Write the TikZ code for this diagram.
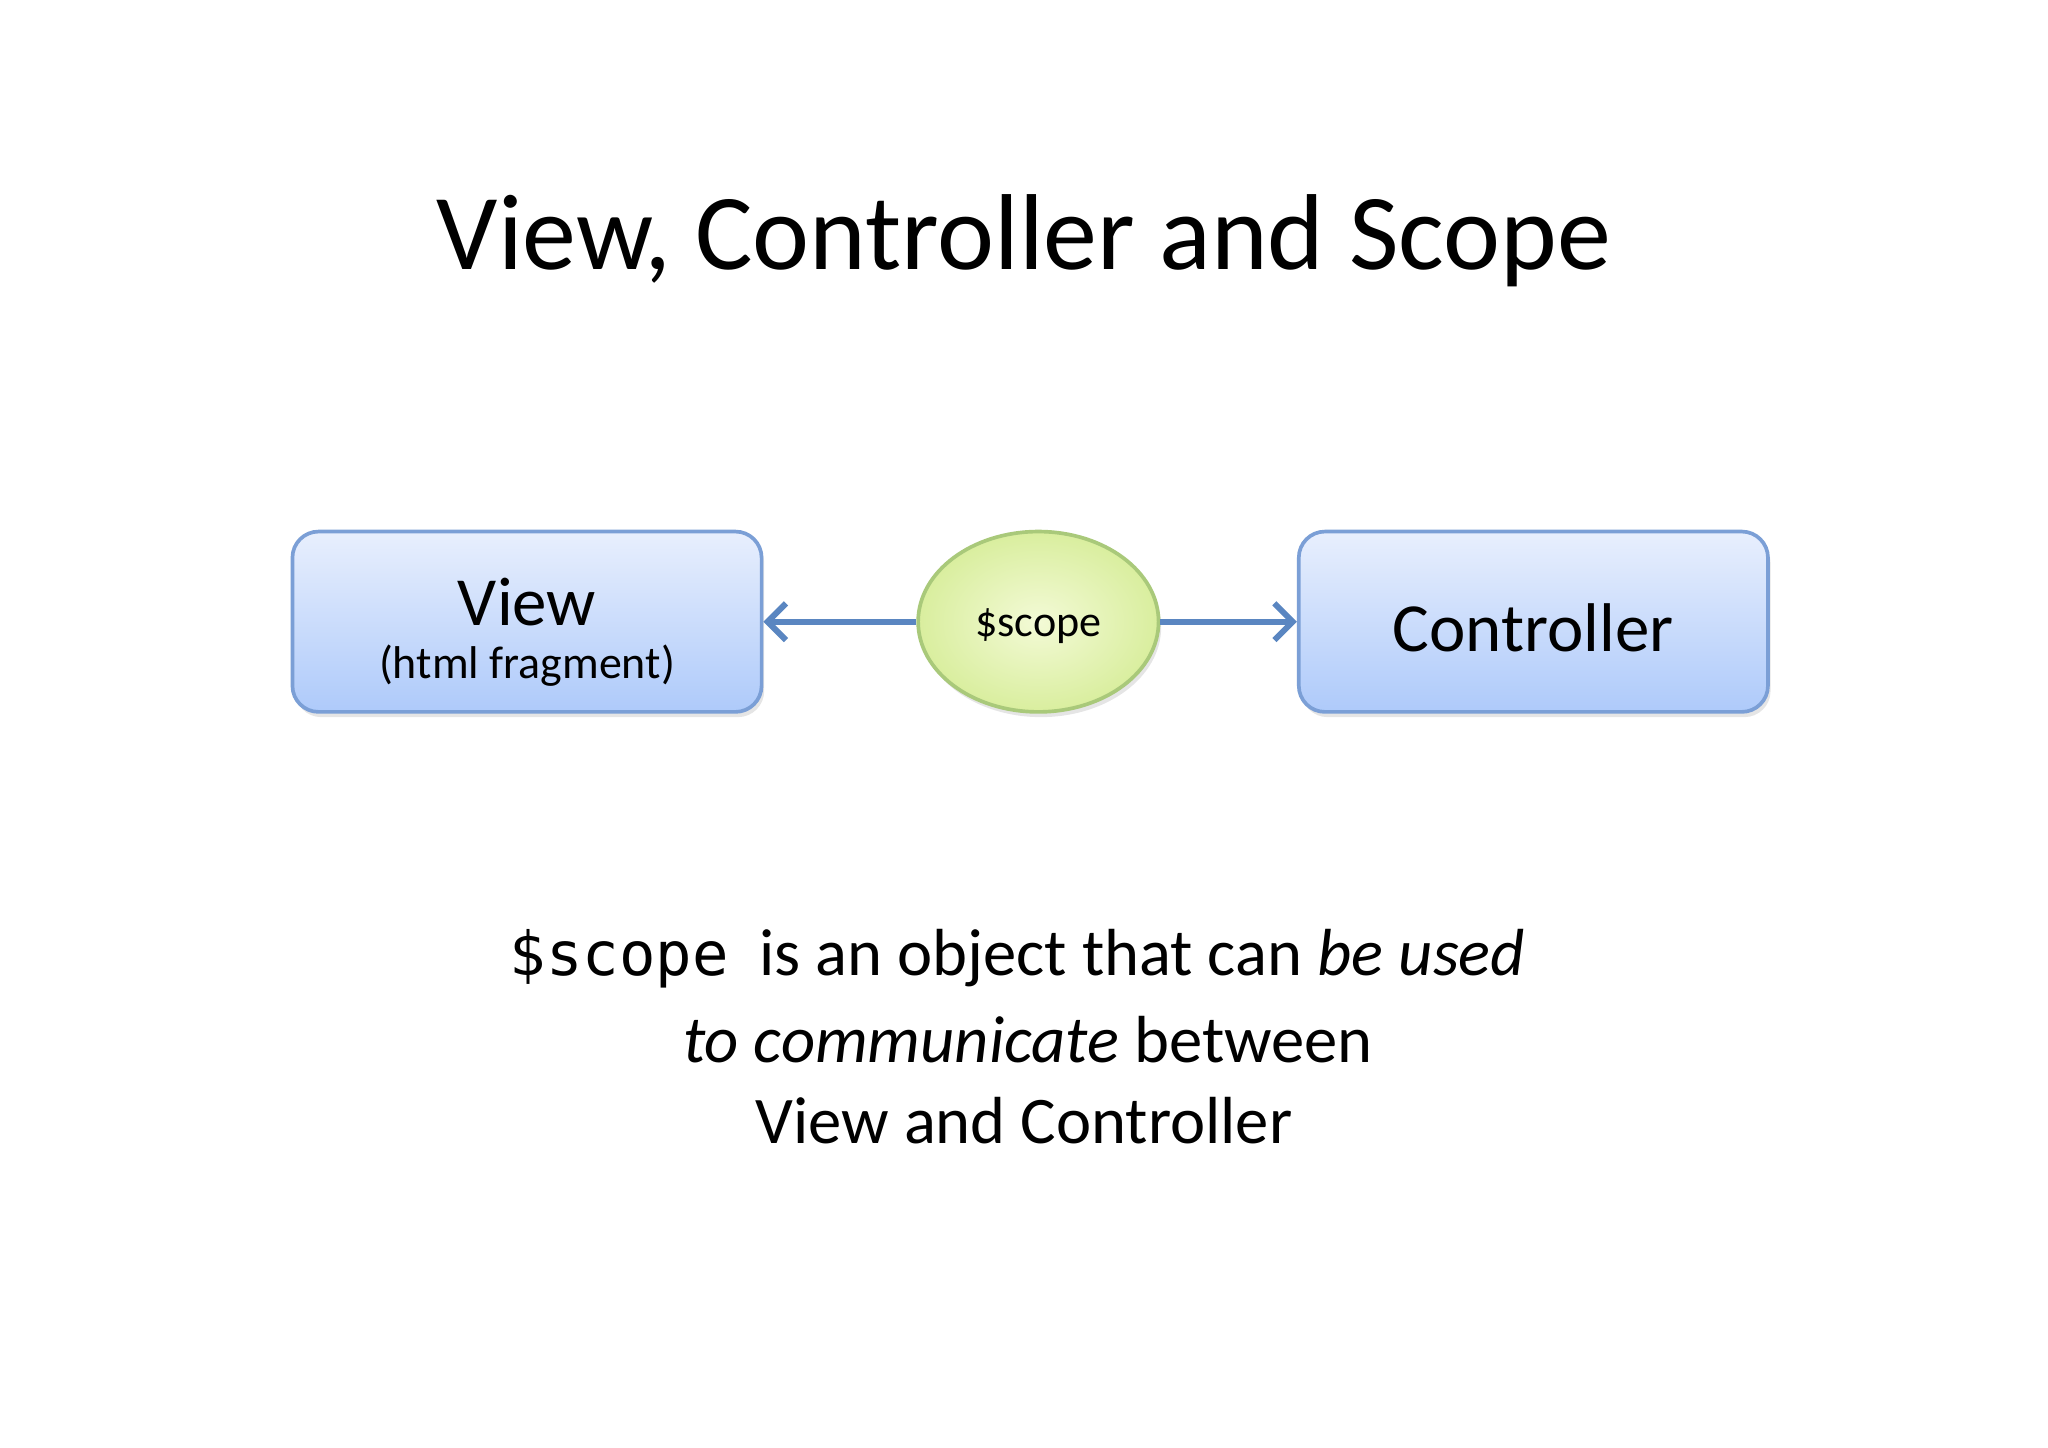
\documentclass[tikz,border=0pt]{standalone}
\usepackage{fontspec}
\setmainfont{Carlito}
\newfontfamily\codefont{DejaVu Sans Mono}
\usetikzlibrary{shapes.geometric,arrows.meta,shadows}
\definecolor{boxtop}{HTML}{E8EFFD}
\definecolor{boxbot}{HTML}{AECAFA}
\definecolor{boxline}{HTML}{7B9FD6}
\definecolor{elin}{HTML}{F3FAD6}
\definecolor{elout}{HTML}{D9EE9E}
\definecolor{elline}{HTML}{A9C97A}
\definecolor{arr}{HTML}{5A86C1}
\tikzset{
  bluebox/.style={draw=boxline, line width=0.8pt, rounded corners=0.2cm, top color=boxtop, bottom color=boxbot,
    minimum width=3.59cm, minimum height=1.38cm, align=center, drop shadow={opacity=0.2, shadow xshift=0.02cm, shadow yshift=-0.04cm}},
  scopeell/.style={ellipse, draw=elline, line width=0.8pt, inner color=elin, outer color=elout,
    minimum width=1.84cm, minimum height=1.38cm, drop shadow={opacity=0.2, shadow xshift=0.02cm, shadow yshift=-0.04cm}},
  conn/.style={draw=arr, line width=1.3pt, -{Straight Barb[length=4pt,width=8pt]}}
}
\begin{document}
\begin{tikzpicture}[x=0.01cm,y=-0.01cm]
\useasboundingbox[fill=white] (0,0) rectangle (1568,1108);
\node (title) at (784,184) {\fontsize{23.5}{28}\selectfont View, Controller and Scope};
\node[bluebox] (view) at (403.5,476) {};
\node (viewt) at (403.5,461) {\fontsize{15}{18}\selectfont View};
\node (viewsub) at (403.5,510) {\fontsize{10}{12}\selectfont (html fragment)};
\node[bluebox] (ctrl) at (1174,476) {};
\node (ctrlt) at (1174,481) {\fontsize{15}{18}\selectfont Controller};
\node[scopeell] (scope) at (795,476) {};
\node (scopet) at (795,479) {\fontsize{9.6}{12}\selectfont \$scope};
\draw[conn] (scope) -- (view);
\draw[conn] (scope) -- (ctrl);
\node (d1) at (779,734) {\fontsize{14.5}{17}\selectfont {\codefont\fontsize{13.2}{17}\selectfont \$scope}\ \ is an object that can \textit{be used}};
\node (d2) at (787,796) {\fontsize{14.5}{17}\selectfont \textit{to communicate} between};
\node (d3) at (784,858) {\fontsize{14.5}{17}\selectfont View and Controller};
\end{tikzpicture}
\end{document}
